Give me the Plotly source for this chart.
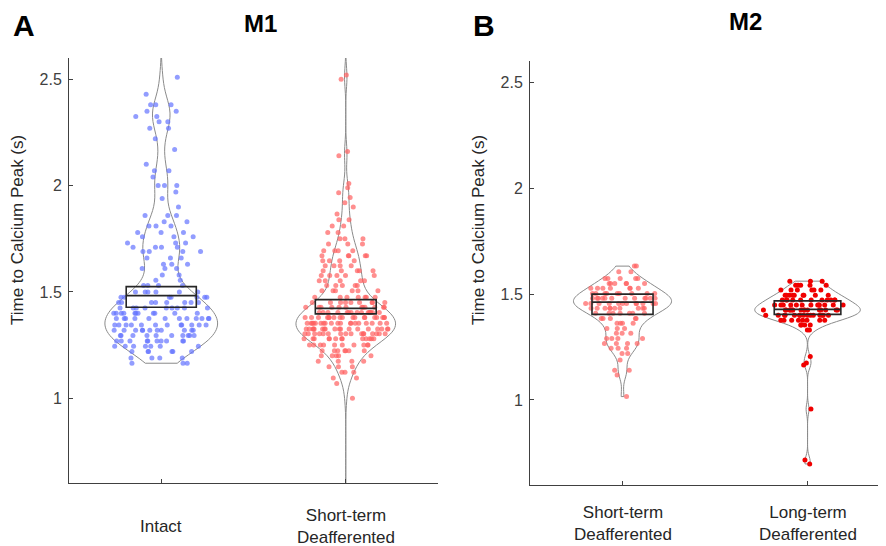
import numpy as np
import plotly.graph_objects as go

# ---------------- data ----------------
# values are quantised time levels (s) with the number of cells seen at each level
intact_levels = [1.165, 1.19, 1.22, 1.245, 1.27, 1.295, 1.32, 1.345, 1.375, 1.40, 1.425, 1.45,
                 1.475, 1.50, 1.53, 1.555, 1.58, 1.61, 1.63, 1.66, 1.69, 1.71, 1.73, 1.76,
                 1.78, 1.81, 1.83, 1.86, 1.90, 1.94, 1.97, 2.00, 2.04, 2.07, 2.10, 2.17, 2.22,
                 2.27, 2.30, 2.325, 2.35, 2.38, 2.43, 2.51]
intact_counts = [3, 4, 6, 7, 10, 10, 11, 12, 12, 11, 9, 8,
                 7, 6, 4, 2, 2, 3, 3, 3, 4, 4, 3, 3,
                 3, 3, 2, 3, 1, 1, 1, 3, 1, 2, 1, 1, 1,
                 2, 2, 2, 2, 3, 1, 1]

m1_short_levels = [1.0, 1.07, 1.096, 1.122, 1.149, 1.174, 1.20, 1.224, 1.251, 1.28, 1.303, 1.326,
                   1.353, 1.38, 1.404, 1.428, 1.451, 1.475, 1.506, 1.53, 1.553, 1.577, 1.60,
                   1.623, 1.647, 1.67, 1.694, 1.725, 1.75, 1.78, 1.81, 1.84, 1.866, 1.90,
                   1.92, 1.944, 1.967, 1.99, 2.01, 2.14, 2.16, 2.50, 2.52]
m1_short_counts = [1, 1, 2, 3, 3, 4, 5, 7, 10, 13, 16, 18,
                   19, 18, 15, 12, 9, 7, 6, 5, 5, 5, 5,
                   4, 4, 5, 4, 3, 3, 2, 2, 2, 1, 1,
                   1, 1, 1, 1, 1, 1, 1, 1, 1]

m2_short_levels = [1.016, 1.118, 1.14, 1.189, 1.22, 1.244, 1.267, 1.29, 1.315, 1.338, 1.362,
                   1.385, 1.409, 1.433, 1.456, 1.48, 1.503, 1.527, 1.55, 1.574, 1.605, 1.632]
m2_short_counts = [1, 1, 2, 1, 2, 3, 4, 4, 3, 3, 4,
                   5, 7, 10, 12, 12, 9, 7, 6, 5, 2, 2]

m2_long_levels = [0.698, 0.717, 0.957, 1.165, 1.175, 1.205, 1.33, 1.354, 1.377, 1.40, 1.425,
                  1.448, 1.472, 1.495, 1.519, 1.542, 1.561]
m2_long_counts = [1, 1, 1, 1, 1, 1, 2, 4, 8, 15, 16,
                  13, 11, 9, 6, 5, 3]

# box summaries (lower edge, centre line, upper edge)
m1_box_low = [1.428, 1.397]
m1_box_mid = [1.483, 1.423]
m1_box_high = [1.525, 1.464]
m2_box_low = [1.404, 1.404]
m2_box_mid = [1.462, 1.428]
m2_box_high = [1.500, 1.468]

m1_labels = ["Intact", "Short-term<br>Deafferented"]
m2_labels = ["Short-term<br>Deafferented", "Long-term<br>Deafferented"]
positions = [1, 2]
ytick_vals = [1, 1.5, 2, 2.5]
ytick_text = ["1", "1.5", "2", "2.5"]


def expand(levels, counts):
    return np.repeat(np.array(levels, dtype=float), np.array(counts))


FONT = "Liberation Sans, Arial, Helvetica, sans-serif"
AX = "#404040"

fig = go.Figure()


def add_violin(vals, pos, xa, ya, color, width, bw, spanmode, span=None):
    kw = dict(spanmode=spanmode)
    if span is not None:
        kw["span"] = span
    fig.add_trace(go.Violin(
        x=[pos] * len(vals), y=vals, xaxis=xa, yaxis=ya,
        width=width, scalemode="width", bandwidth=bw,
        points="all", jitter=0.85, pointpos=0,
        marker=dict(color=color, size=5, line=dict(width=0)),
        line=dict(color="#8a8a8a", width=1),
        fillcolor="rgba(255,255,255,0)",
        box_visible=False, meanline_visible=False,
        showlegend=False, hoverinfo="skip", **kw))


def add_box(pos, lo, mid, hi, xa, ya, width):
    fig.add_trace(go.Box(
        x=[pos], q1=[lo], median=[mid], q3=[hi], lowerfence=[lo], upperfence=[hi],
        xaxis=xa, yaxis=ya, width=width, whiskerwidth=0,
        line=dict(color="#262626", width=1.6),
        fillcolor="rgba(0,0,0,0)", boxpoints=False,
        showlegend=False, hoverinfo="skip"))


add_violin(expand(intact_levels, intact_counts), positions[0], "x", "y",
           "rgba(100,115,255,0.7)", 0.61, 0.06, "manual", [1.165, 2.7])
add_violin(expand(m1_short_levels, m1_short_counts), positions[1], "x", "y",
           "rgba(255,95,95,0.7)", 0.54, 0.05, "manual", [0.5, 2.7])
add_violin(expand(m2_short_levels, m2_short_counts), positions[0], "x2", "y2",
           "rgba(255,95,95,0.7)", 0.53, 0.035, "hard")
add_violin(expand(m2_long_levels, m2_long_counts), positions[1], "x2", "y2",
           "rgb(240,0,0)", 0.57, 0.025, "hard")

add_box(positions[0], m1_box_low[0], m1_box_mid[0], m1_box_high[0], "x", "y", 0.38)
add_box(positions[1], m1_box_low[1], m1_box_mid[1], m1_box_high[1], "x", "y", 0.33)
add_box(positions[0], m2_box_low[0], m2_box_mid[0], m2_box_high[0], "x2", "y2", 0.33)
add_box(positions[1], m2_box_low[1], m2_box_mid[1], m2_box_high[1], "x2", "y2", 0.36)

# the page body has an 8px margin, so the figure is drawn 8px smaller and
# all window positions below are converted to figure paper coordinates
OFF = 8
WIN_W, WIN_H = 886, 546
W, H = WIN_W - OFF, WIN_H - OFF


def px(X):
    return (X - OFF) / W


def py(Y):
    return 1 - (Y - OFF) / H


def xd(a, b):
    return [max(0, px(a)), min(1, px(b))]


def yd(top, bottom):
    return [py(bottom), py(top)]


common_x = dict(showgrid=False, zeroline=False, showline=True, linecolor=AX, linewidth=1,
                ticks="inside", ticklen=4, tickcolor=AX, tickvals=positions,
                showticklabels=False)
common_y = dict(showgrid=False, zeroline=False, showline=True, linecolor=AX, linewidth=1,
                ticks="inside", ticklen=4, tickcolor=AX, range=[0.6, 2.6],
                tickvals=ytick_vals, ticktext=ytick_text, ticklabelstandoff=3,
                tickfont=dict(family=FONT, size=16, color=AX))

fig.update_layout(
    width=W, height=H, margin=dict(l=0, r=0, t=0, b=0),
    paper_bgcolor="white", plot_bgcolor="white",
    violinmode="overlay", boxmode="overlay",
    xaxis=dict(domain=xd(69, 438), range=[0.5, 2.5], anchor="y", **common_x),
    yaxis=dict(domain=yd(58, 483.4), anchor="x", **common_y),
    xaxis2=dict(domain=xd(530, 886), range=[0.5, 2.424], anchor="y2", **common_x),
    yaxis2=dict(domain=yd(61.1, 484.7), anchor="x2", **common_y),
)

ann = []


def txt(text, x, y, size, angle=0, color="black", xref="paper"):
    return dict(text=text, x=x, y=y, xref=xref, yref="paper", xanchor="center",
                yanchor="middle", textangle=angle, showarrow=False,
                font=dict(family=FONT, size=size, color=color))


# panel letters and titles
ann.append(txt("<b>A</b>", px(24), py(25), 30))
ann.append(txt("<b>M1</b>", px(260), py(23), 24))
ann.append(txt("<b>B</b>", px(484), py(25), 30))
ann.append(txt("<b>M2</b>", px(745), py(22), 24))
# y titles
for xp in (17, 478):
    ann.append(txt("Time to Calcium Peak (s)", px(xp), py(230), 17, angle=-90,
                   color="#262626"))
# category labels
for lab, pos in zip(m1_labels, positions):
    ann.append(txt(lab, pos, py(526), 17, color="#262626", xref="x"))
for lab, pos in zip(m2_labels, positions):
    ann.append(txt(lab, pos, py(523), 17, color="#262626", xref="x2"))
fig.update_layout(annotations=ann)

fig.write_html("out.html")
